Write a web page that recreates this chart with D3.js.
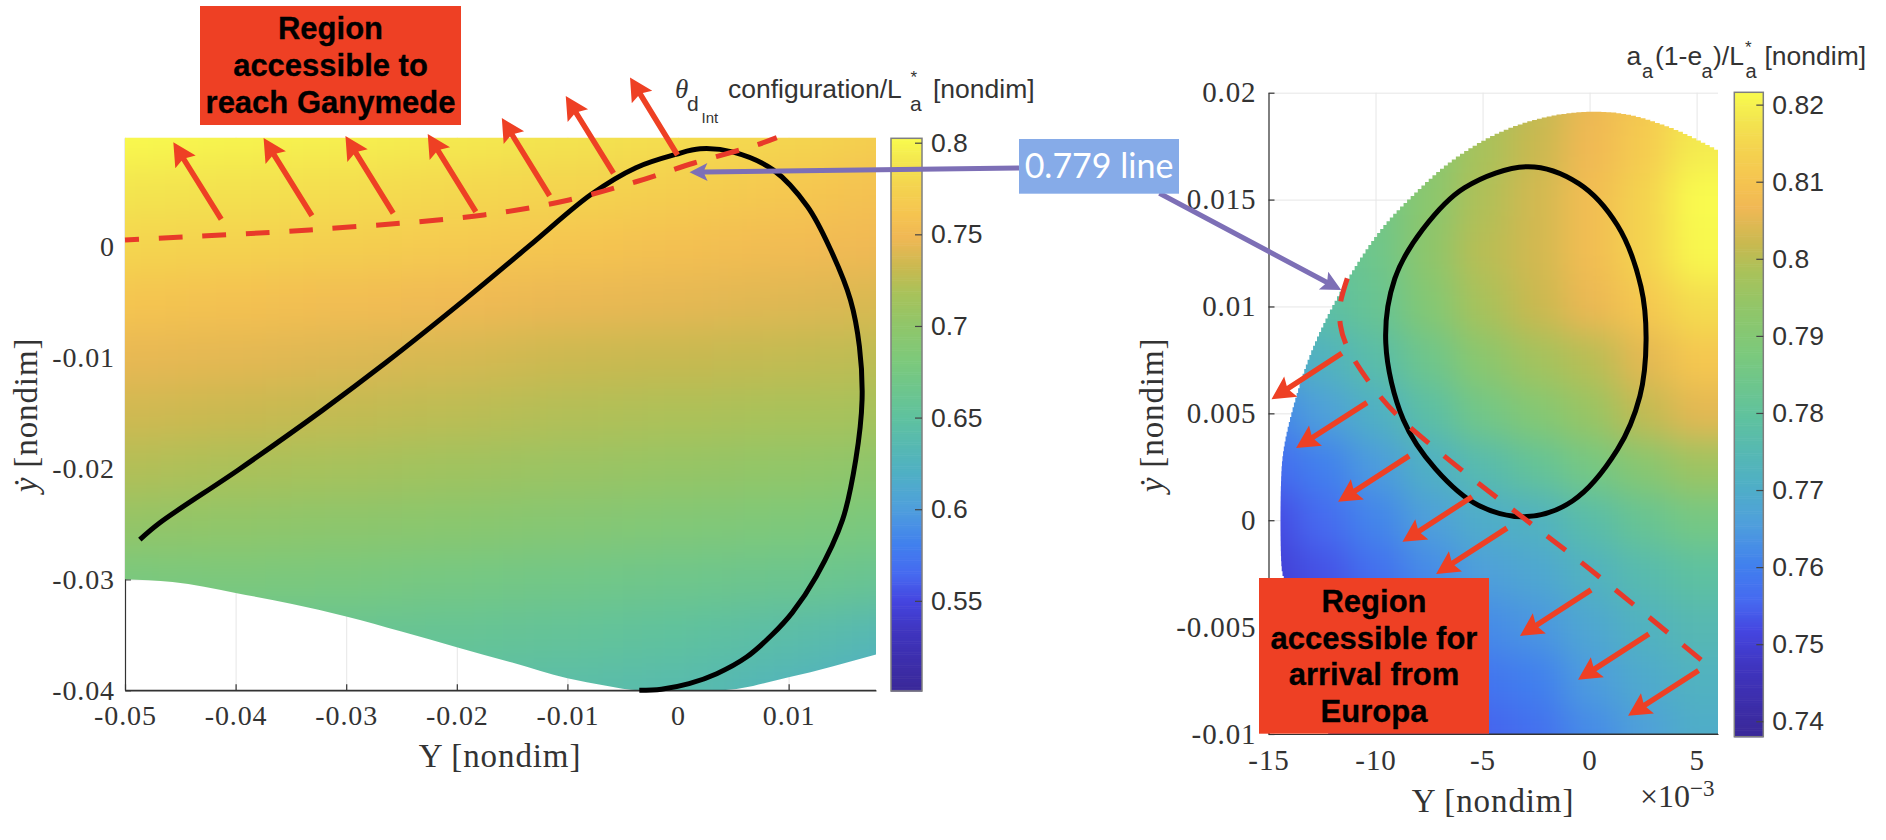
<!DOCTYPE html>
<html>
<head>
<meta charset="utf-8">
<script src="https://cdn.jsdelivr.net/npm/d3@7"></script>
<style>
  body { margin: 0; background: #fff; }
  svg { display: block; }
  .tex { font-family: "Liberation Serif", serif; fill: #333; letter-spacing: 0.9px; }
  .sans { font-family: "Liberation Sans", Arial, sans-serif; fill: #333; }
  .box { font-family: "Liberation Sans", Arial, sans-serif; font-weight: bold; fill: #000; stroke: #000; stroke-width: 0.3px; text-anchor: middle; }
</style>
</head>
<body>
<svg width="1886" height="840"></svg>
<script>
// colormap (fraction of the bar -> colour)
const mapStops = [0, 0.11, 0.163, 0.21, 0.265, 0.33, 0.395, 0.496, 0.594, 0.66, 0.72, 0.765, 0.82, 0.86, 0.92, 0.96, 1];
const mapColors = ["#3a2898", "#3f35c0", "#4545e0", "#4669f0", "#4180ee", "#4f9fdc", "#4fb0c4", "#5fc29e",
  "#7cc97c", "#8fc66a", "#a9c25a", "#c9b950", "#f0b855", "#f5c350", "#f4d64f", "#f3e74f", "#f9fb4e"];

// left plot
const leftXTicks = [-0.05, -0.04, -0.03, -0.02, -0.01, 0, 0.01];
const leftXLabels = ["-0.05", "-0.04", "-0.03", "-0.02", "-0.01", "0", "0.01"];
const leftYTicks = [0, -0.01, -0.02, -0.03, -0.04];
const leftYLabels = ["0", "-0.01", "-0.02", "-0.03", "-0.04"];
const leftBarTicks = [0.8, 0.75, 0.7, 0.65, 0.6, 0.55];
const leftBarLabels = ["0.8", "0.75", "0.7", "0.65", "0.6", "0.55"];

const leftGridX = [-0.05, -0.04, -0.03, -0.02, -0.01, 0, 0.01, 0.02];
const leftGridY = [0.01, 0.005, 0, -0.005, -0.01, -0.015, -0.02, -0.025, -0.03, -0.035, -0.04];
const leftField = [
  [0.802, 0.798, 0.796, 0.792, 0.788, 0.784, 0.778, 0.770],
  [0.789, 0.786, 0.783, 0.780, 0.776, 0.771, 0.765, 0.757],
  [0.777, 0.774, 0.771, 0.767, 0.762, 0.757, 0.752, 0.748],
  [0.762, 0.758, 0.754, 0.750, 0.746, 0.744, 0.741, 0.738],
  [0.745, 0.743, 0.740, 0.737, 0.733, 0.731, 0.729, 0.726],
  [0.735, 0.732, 0.729, 0.726, 0.722, 0.720, 0.718, 0.716],
  [0.722, 0.719, 0.716, 0.712, 0.708, 0.705, 0.702, 0.698],
  [0.703, 0.701, 0.698, 0.695, 0.690, 0.686, 0.682, 0.678],
  [0.678, 0.680, 0.678, 0.674, 0.670, 0.667, 0.664, 0.660],
  [0.660, 0.660, 0.660, 0.658, 0.655, 0.650, 0.642, 0.632],
  [0.645, 0.645, 0.645, 0.645, 0.642, 0.638, 0.628, 0.615]
];
const leftEdge = [[-0.05, -0.03], [-0.0457, -0.03025], [-0.04, -0.03123], [-0.035, -0.0322], [-0.03, -0.03334],
  [-0.025, -0.0347], [-0.02, -0.03611], [-0.015, -0.0375], [-0.01, -0.03892], [-0.0065, -0.0396], [-0.0035, -0.04],
  [0.0038, -0.04], [0.01, -0.03883], [0.0179, -0.03678]];
const leftCurve = [[-0.04866, -0.02642], [-0.04685, -0.0249], [-0.03973, -0.02012], [-0.03213, -0.01475],
  [-0.02644, -0.01049], [-0.01931, -0.00482], [-0.01351, 0], [-0.00784, 0.0047], [-0.0038, 0.0071],
  [-0.0002, 0.0083], [0.002, 0.0088], [0.005, 0.0085], [0.0086, 0.0069], [0.0117, 0.0036],
  [0.0138, -0.0003], [0.01559, -0.00482], [0.0164, -0.00902], [0.01664, -0.01382], [0.01607, -0.01922],
  [0.01488, -0.02462], [0.01251, -0.02972], [0.01033, -0.033], [0.0085, -0.035], [0.0062, -0.037],
  [0.0035, -0.0385], [0.001, -0.0394], [-0.0015, -0.0399], [-0.0035, -0.04]];
const leftDash = [[-0.05, 0.00059], [-0.0333, 0.00149], [-0.01756, 0.00284], [-0.00986, 0.00419],
  [-0.0038, 0.00583], [0.00145, 0.00752], [0.0071, 0.00914], [0.00893, 0.0098]];
const leftArrowTails = [[-0.0413, 0.00245], [-0.0331, 0.00277], [-0.02575, 0.00299], [-0.01828, 0.00313],
  [-0.01161, 0.00457], [-0.00583, 0.00659], [-0.00005, 0.00824]];
const leftArrowTips = [[-0.04563, 0.00938], [-0.03747, 0.00977], [-0.03007, 0.00995], [-0.02263, 0.01013],
  [-0.01593, 0.01157], [-0.01015, 0.01355], [-0.00434, 0.01523]];

// right plot
const rightXTicks = [-0.015, -0.01, -0.005, 0, 0.005];
const rightXLabels = ["-15", "-10", "-5", "0", "5"];
const rightYTicks = [0.02, 0.015, 0.01, 0.005, 0, -0.005, -0.01];
const rightYLabels = ["0.02", "0.015", "0.01", "0.005", "0", "-0.005", "-0.01"];
const rightBarTicks = [0.82, 0.81, 0.8, 0.79, 0.78, 0.77, 0.76, 0.75, 0.74];
const rightBarLabels = ["0.82", "0.81", "0.8", "0.79", "0.78", "0.77", "0.76", "0.75", "0.74"];

const rightGridX = [-0.015, -0.0125, -0.01, -0.0075, -0.005, -0.0025, 0, 0.0025, 0.005];
const rightGridY = [0.02, 0.0175, 0.015, 0.0125, 0.01, 0.0075, 0.005, 0.0025, 0, -0.0025, -0.005, -0.0075, -0.01];
const rightField = [
  [0.780, 0.782, 0.784, 0.790, 0.797, 0.801, 0.806, 0.811, 0.817],
  [0.780, 0.782, 0.784, 0.791, 0.798, 0.802, 0.807, 0.812, 0.819],
  [0.779, 0.781, 0.785, 0.792, 0.799, 0.803, 0.808, 0.814, 0.824],
  [0.777, 0.780, 0.784, 0.793, 0.800, 0.803, 0.808, 0.814, 0.821],
  [0.773, 0.778, 0.782, 0.790, 0.798, 0.802, 0.806, 0.811, 0.816],
  [0.768, 0.772, 0.777, 0.784, 0.792, 0.797, 0.800, 0.805, 0.811],
  [0.761, 0.766, 0.771, 0.778, 0.785, 0.790, 0.795, 0.801, 0.805],
  [0.756, 0.760, 0.765, 0.771, 0.776, 0.781, 0.786, 0.791, 0.796],
  [0.752, 0.756, 0.761, 0.766, 0.770, 0.772, 0.777, 0.782, 0.786],
  [0.750, 0.753, 0.757, 0.762, 0.766, 0.768, 0.772, 0.776, 0.779],
  [0.749, 0.751, 0.754, 0.758, 0.762, 0.764, 0.768, 0.772, 0.775],
  [0.748, 0.750, 0.752, 0.755, 0.758, 0.760, 0.765, 0.769, 0.772],
  [0.747, 0.749, 0.751, 0.753, 0.755, 0.757, 0.762, 0.766, 0.770]
];
const rightEdge = [[-0.01213, -0.01], [-0.01353, -0.00606], [-0.01428, -0.00264], [-0.01438, -0.00217], [-0.01442, 0.00174],
  [-0.01431, 0.00329], [-0.01392, 0.00511], [-0.01306, 0.00781], [-0.01181, 0.01046], [-0.00994, 0.01342],
  [-0.00839, 0.01514], [-0.00636, 0.01693], [-0.00403, 0.01826], [-0.00138, 0.019], [0.00127, 0.01904],
  [0.00376, 0.01833], [0.006, 0.01724]];
const rightLoop = [[-0.00286, 0.01654], [-0.0005, 0.01575], [0.0013, 0.0138], [0.0024, 0.01093], [0.00264, 0.00843],
  [0.00235, 0.0058], [0.0013, 0.0033], [-0.0008, 0.0009], [-0.00293, 0.00017], [-0.0052, 0.0007], [-0.0072, 0.0024],
  [-0.0087, 0.0047], [-0.00952, 0.00828], [-0.0091, 0.0113], [-0.0078, 0.0136], [-0.00585, 0.01555]];
const rightDash = [[0.00521, -0.00653], [-0.00024, -0.00209], [-0.00266, -0.00022], [-0.00588, 0.00227], [-0.00741, 0.00352],
  [-0.00901, 0.00493], [-0.01026, 0.00641], [-0.01133, 0.00812], [-0.01164, 0.00913], [-0.01164, 0.01015], [-0.01124, 0.01155]];
const rightArrowTails = [[-0.01157, 0.00781], [-0.0104, 0.0055], [-0.00843, 0.00301], [-0.00549, 0.0011],
  [-0.00386, -0.00037], [0.00007, -0.00326], [0.00277, -0.00532], [0.00509, -0.00703]];
const rightArrowTips = [[-0.01486, 0.00566], [-0.01371, 0.00338], [-0.01175, 0.00086], [-0.00874, -0.00101],
  [-0.00717, -0.00251], [-0.00325, -0.00541], [-0.00054, -0.00746], [0.0018, -0.00915]];

const RED = "#ee4024", DASH = "#e8392a", PURPLE = "#7d6fb6";

const svg = d3.select("svg");
const defs = svg.append("defs");

const leftX = d3.scaleLinear().domain([-0.05, 0.0179]).range([125, 876]);
const leftY = d3.scaleLinear().domain([0.0098, -0.04]).range([137.7, 690.3]);
const rightX = d3.scaleLinear().domain([-0.015, 0.006]).range([1268.5, 1718]);
const rightY = d3.scaleLinear().domain([0.02, -0.01]).range([92.7, 734]);

function makeColor(lo, hi) {
  const stops = d3.scaleLinear().domain(mapStops).range(mapColors).interpolate(d3.interpolateRgb).clamp(true);
  return (v) => stops((v - lo) / (hi - lo));
}

function drawAxes(g, x, y, xTicks, xLabels, yTicks, yLabels, fontSize, xPad, yPad) {
  const [x0, x1] = x.range(), [y0, y1] = y.range();
  // light grid first
  g.append("g").attr("transform", "translate(0," + y1 + ")")
    .call(d3.axisBottom(x).tickValues(xTicks).tickSize(y0 - y1).tickFormat(""))
    .call((a) => a.select(".domain").remove())
    .selectAll("line").attr("stroke", "#e6e6e6");
  g.append("g").attr("transform", "translate(" + x0 + ",0)")
    .call(d3.axisLeft(y).tickValues(yTicks).tickSize(x0 - x1).tickFormat(""))
    .call((a) => a.select(".domain").remove())
    .selectAll("line").attr("stroke", "#e6e6e6");

  const ax = g.append("g").attr("transform", "translate(0," + y1 + ")")
    .call(d3.axisBottom(x).tickValues(xTicks).tickSizeInner(-6).tickSizeOuter(0).tickPadding(xPad)
      .tickFormat((d, i) => xLabels[i]));
  const ay = g.append("g").attr("transform", "translate(" + x0 + ",0)")
    .call(d3.axisLeft(y).tickValues(yTicks).tickSizeInner(-6).tickSizeOuter(0).tickPadding(yPad)
      .tickFormat((d, i) => yLabels[i]));
  [ax, ay].forEach((a) => {
    a.attr("font-family", null).attr("font-size", null);
    a.selectAll("text").attr("class", "tex").style("font-size", fontSize + "px");
    a.selectAll("line,path").attr("stroke", "#333").attr("stroke-width", 1.2);
  });
}

// the map's edge is pixelated, so walk the outline and turn it into small steps
function stairs(d, step) {
  const p = defs.append("path").attr("d", d), n = p.node(), total = n.getTotalLength();
  const pts = d3.range(0, total, step).concat([total]).map((l) => {
    const q = n.getPointAtLength(l);
    return [q.x, q.y];
  });
  p.remove();
  return d3.line().curve(d3.curveStepAfter)(pts);
}

function drawField(id, x, y, gridX, gridY, field, color, blurX, blurY, clipD) {
  defs.append("clipPath").attr("id", "clip" + id).append("path").attr("d", clipD);
  const filter = defs.append("filter").attr("id", "blur" + id)
    .attr("filterUnits", "userSpaceOnUse").attr("x", -300).attr("y", -300).attr("width", 2600).attr("height", 1500)
    .attr("color-interpolation-filters", "sRGB");
  filter.append("feGaussianBlur").attr("stdDeviation", blurX + " " + blurY);

  const cells = [];
  field.forEach((row, r) => row.forEach((v, c) => cells.push({ r, c, v })));

  // cell edges halfway between grid values; outer cells run on so the blur does not fade inside the plot
  const edgeX = (c) => c < 0 ? x(gridX[0]) - 200 : c >= gridX.length - 1 ? x(gridX[gridX.length - 1]) + 200 : (x(gridX[c]) + x(gridX[c + 1])) / 2;
  const edgeY = (r) => r < 0 ? y(gridY[0]) - 200 : r >= gridY.length - 1 ? y(gridY[gridY.length - 1]) + 200 : (y(gridY[r]) + y(gridY[r + 1])) / 2;

  svg.append("g").attr("clip-path", "url(#clip" + id + ")")
    .append("g").attr("filter", "url(#blur" + id + ")")
    .selectAll("rect").data(cells).join("rect")
    .attr("x", (d) => edgeX(d.c - 1))
    .attr("y", (d) => edgeY(d.r - 1))
    .attr("width", (d) => edgeX(d.c) - edgeX(d.c - 1) + 0.5)
    .attr("height", (d) => edgeY(d.r) - edgeY(d.r - 1) + 0.5)
    .attr("fill", (d) => color(d.v));
}

function drawBar(x0, x1, y0, y1, lo, hi, color, ticks, labels) {
  const scale = d3.scaleLinear().domain([hi, lo]).range([y0, y1]);
  const g = svg.append("g");
  const n = 300;
  g.selectAll("rect").data(d3.range(n)).join("rect")
    .attr("x", x0).attr("width", x1 - x0)
    .attr("y", (i) => y0 + (i / n) * (y1 - y0))
    .attr("height", (y1 - y0) / n + 0.6)
    .attr("fill", (i) => color(hi - ((i + 0.5) / n) * (hi - lo)));
  g.append("rect").attr("x", x0).attr("y", y0).attr("width", x1 - x0).attr("height", y1 - y0)
    .attr("fill", "none").attr("stroke", "#7f7f7f").attr("stroke-width", 1.5);
  const a = g.append("g").attr("transform", "translate(" + x1 + ",0)")
    .call(d3.axisRight(scale).tickValues(ticks).tickSizeInner(-7).tickSizeOuter(0).tickPadding(9)
      .tickFormat((d, i) => labels[i]));
  a.attr("font-family", null).attr("font-size", null);
  a.select(".domain").remove();
  a.selectAll("line").attr("stroke", "#444").attr("stroke-width", 1.2);
  a.selectAll("text").attr("class", "sans").style("font-size", "26.5px");
}

// stem plus barbed head, tip exactly on (x1,y1)
function arrowPath(x0, y0, x1, y1, stem, headLen, headWide) {
  const len = Math.hypot(x1 - x0, y1 - y0), ux = (x1 - x0) / len, uy = (y1 - y0) / len, nx = -uy, ny = ux;
  const at = (along, side) => [x1 - ux * along + nx * side, y1 - uy * along + ny * side];
  const pts = [at(0, 0), at(headLen, headWide / 2), at(headLen - 3, stem / 2), at(len, stem / 2),
    at(len, -stem / 2), at(headLen - 3, -stem / 2), at(headLen, -headWide / 2)];
  return "M" + pts.map((p) => p.join(",")).join("L") + "Z";
}

function drawArrows(x, y, tails, tips) {
  svg.append("g").selectAll("path").data(tails).join("path")
    .attr("d", (d, i) => arrowPath(x(d[0]), y(d[1]), x(tips[i][0]), y(tips[i][1]), 5.5, 23, 24))
    .attr("fill", RED);
}

function dashLine(x, y, pts, offset) {
  svg.append("path")
    .attr("d", d3.line().x((d) => x(d[0])).y((d) => y(d[1])).curve(d3.curveCatmullRom)(pts))
    .attr("fill", "none").attr("stroke", DASH).attr("stroke-width", 5)
    .attr("stroke-dasharray", "23.7 19.8").attr("stroke-dashoffset", offset);
}

function redBox(x0, y0, x1, y1, lines, baselines, fontSize) {
  const g = svg.append("g");
  g.append("rect").attr("x", x0).attr("y", y0).attr("width", x1 - x0).attr("height", y1 - y0).attr("fill", RED);
  lines.forEach((t, i) => {
    g.append("text").attr("class", "box").attr("x", (x0 + x1) / 2).attr("y", baselines[i])
      .style("font-size", fontSize + "px").text(t);
  });
}

// ---- left plot ----
const leftColor = makeColor(0.5008, 0.8024);
const leftAxes = svg.append("g");
drawAxes(leftAxes, leftX, leftY, leftXTicks, leftXLabels, leftYTicks, leftYLabels, 28, 15, 10);

const leftEdgeD = d3.line().x((d) => leftX(d[0])).y((d) => leftY(d[1])).curve(d3.curveMonotoneX)(leftEdge);
const leftClip = leftEdgeD + "L" + leftX(0.0179) + "," + leftY(0.0098) + "L" + leftX(-0.05) + "," + leftY(0.0098) + "Z";
drawField("L", leftX, leftY, leftGridX, leftGridY, leftField, leftColor, 38, 19, leftClip);
svg.append("line").attr("x1", leftX(-0.05)).attr("x2", leftX(0.0179)).attr("y1", leftY(-0.04)).attr("y2", leftY(-0.04))
  .attr("stroke", "#333").attr("stroke-width", 1.2);

svg.append("path")
  .attr("d", d3.line().x((d) => leftX(d[0])).y((d) => leftY(d[1])).curve(d3.curveCatmullRom)(leftCurve))
  .attr("fill", "none").attr("stroke", "#000").attr("stroke-width", 5);
dashLine(leftX, leftY, leftDash, 9.5);
drawArrows(leftX, leftY, leftArrowTails, leftArrowTips);
drawBar(891, 922, 138.3, 691, 0.5008, 0.8024, leftColor, leftBarTicks, leftBarLabels);

svg.append("text").attr("class", "tex").attr("x", 500).attr("y", 766.5).attr("text-anchor", "middle")
  .style("font-size", "33px").text("Y [nondim]");
svg.append("text").attr("class", "tex").attr("transform", "translate(37,415) rotate(-90)").attr("text-anchor", "middle")
  .style("font-size", "33px").html('<tspan font-style="italic">ẏ</tspan> [nondim]');

const leftTitle = svg.append("g").attr("class", "title");
leftTitle.append("text").attr("class", "tex").attr("x", 675).attr("y", 98).style("font-size", "27px").style("font-style", "italic").text("θ");
leftTitle.append("text").attr("class", "sans").attr("x", 687).attr("y", 110.7).style("font-size", "21px").text("d");
leftTitle.append("text").attr("class", "sans").attr("x", 701.5).attr("y", 122.5).style("font-size", "15px").text("Int");
leftTitle.append("text").attr("class", "sans").attr("x", 728).attr("y", 98).style("font-size", "26.5px").text("configuration/L");
leftTitle.append("text").attr("class", "sans").attr("x", 910.5).attr("y", 83).style("font-size", "17px").text("*");
leftTitle.append("text").attr("class", "sans").attr("x", 910).attr("y", 110.7).style("font-size", "21px").text("a");
leftTitle.append("text").attr("class", "sans").attr("x", 933).attr("y", 98).style("font-size", "26.5px").text("[nondim]");

// ---- right plot ----
const rightColor = makeColor(0.738, 0.8216);
const rightAxes = svg.append("g");
drawAxes(rightAxes, rightX, rightY, rightXTicks, rightXLabels, rightYTicks, rightYLabels, 29, 15.5, 12);

const rightEdgeD = d3.line().x((d) => rightX(d[0])).y((d) => rightY(d[1])).curve(d3.curveCatmullRom)(rightEdge);
const rightClip = stairs(rightEdgeD, 5) + "L" + rightX(0.006) + "," + rightY(-0.01) + "Z";
drawField("R", rightX, rightY, rightGridX, rightGridY, rightField, rightColor, 17, 17, rightClip);
svg.append("line").attr("x1", rightX(-0.01213)).attr("x2", rightX(0.006)).attr("y1", rightY(-0.01)).attr("y2", rightY(-0.01))
  .attr("stroke", "#333").attr("stroke-width", 1.2);

svg.append("path")
  .attr("d", d3.line().x((d) => rightX(d[0])).y((d) => rightY(d[1])).curve(d3.curveCatmullRomClosed)(rightLoop))
  .attr("fill", "none").attr("stroke", "#000").attr("stroke-width", 5);
dashLine(rightX, rightY, rightDash, 0);
drawArrows(rightX, rightY, rightArrowTails, rightArrowTips);
drawBar(1734.3, 1763.3, 92.3, 736.7, 0.738, 0.8216, rightColor, rightBarTicks, rightBarLabels);

svg.append("text").attr("class", "tex").attr("x", 1493).attr("y", 811.5).attr("text-anchor", "middle")
  .style("font-size", "33px").text("Y [nondim]");
svg.append("text").attr("class", "tex").attr("x", 1640).attr("y", 807).style("font-size", "32px").style("letter-spacing", "0")
  .html('×10<tspan dy="-11" style="font-size:23px">−3</tspan>');
svg.append("text").attr("class", "tex").attr("transform", "translate(1163,415) rotate(-90)").attr("text-anchor", "middle")
  .style("font-size", "33px").html('<tspan font-style="italic">ẏ</tspan> [nondim]');

const rightTitle = svg.append("g").attr("class", "title");
rightTitle.append("text").attr("class", "sans").attr("x", 1626.5).attr("y", 65).style("font-size", "26.5px").text("a");
rightTitle.append("text").attr("class", "sans").attr("x", 1642).attr("y", 77.7).style("font-size", "20px").text("a");
rightTitle.append("text").attr("class", "sans").attr("x", 1655).attr("y", 65).style("font-size", "26.5px").text("(1-e");
rightTitle.append("text").attr("class", "sans").attr("x", 1701.5).attr("y", 77.7).style("font-size", "20px").text("a");
rightTitle.append("text").attr("class", "sans").attr("x", 1713).attr("y", 65).style("font-size", "26.5px").text(")/L");
rightTitle.append("text").attr("class", "sans").attr("x", 1745).attr("y", 52.5).style("font-size", "17px").text("*");
rightTitle.append("text").attr("class", "sans").attr("x", 1745.5).attr("y", 77.7).style("font-size", "20px").text("a");
rightTitle.append("text").attr("class", "sans").attr("x", 1764.5).attr("y", 65).style("font-size", "26.5px").text("[nondim]");

// ---- annotations that span both plots ----
redBox(200, 6, 461, 125, ["Region", "accessible to", "reach Ganymede"], [39, 76, 113], 31);
redBox(1259, 578, 1489, 733.7, ["Region", "accessible for", "arrival from", "Europa"], [612.3, 648.6, 685, 722], 31);

svg.append("path").attr("d", arrowPath(1019, 168, 689.5, 172.3, 5, 18, 18)).attr("fill", PURPLE);
svg.append("path").attr("d", arrowPath(1159.4, 193.3, 1341.2, 290, 5, 20, 20)).attr("fill", PURPLE);
svg.append("rect").attr("x", 1019).attr("y", 139).attr("width", 160).attr("height", 54.7).attr("fill", "#86abe8");
svg.append("text").attr("x", 1099).attr("y", 178).attr("text-anchor", "middle")
  .style("font-family", "Lato, sans-serif").style("font-size", "34px").style("fill", "#fff").text("0.779 line");
</script>
</body>
</html>
